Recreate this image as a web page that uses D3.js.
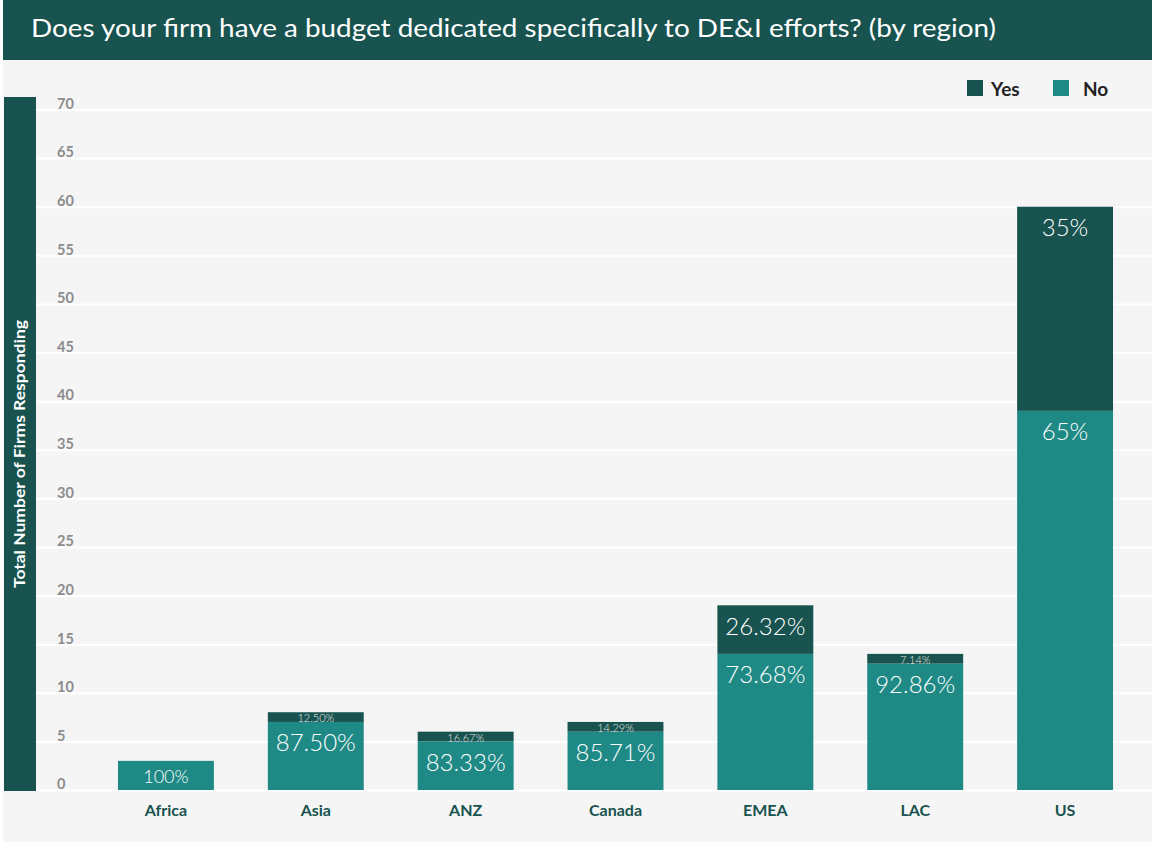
<!DOCTYPE html>
<html>
<head>
<meta charset="utf-8">
<script src="https://cdn.jsdelivr.net/npm/d3@7"></script>
<style>
  html, body { margin: 0; padding: 0; background: #ffffff; }
  svg { display: block; }
</style>
</head>
<body>
<script>
// Survey responses: number of firms answering Yes / No, by region
const regions = ["Africa", "Asia", "ANZ", "Canada", "EMEA", "LAC", "US"];
const yesCounts = [0, 1, 1, 1, 5, 1, 21];
const noCounts  = [3, 7, 5, 6, 14, 13, 39];
const yTicks = [0, 5, 10, 15, 20, 25, 30, 35, 40, 45, 50, 55, 60, 65, 70];
const seriesNames = ["Yes", "No"];

const W = 1152, H = 842;
const darkTeal = "#18534f";
const teal = "#1e8985";
const FONT = "Lato, 'Open Sans', sans-serif";

const svg = d3.select("body").append("svg").attr("width", W).attr("height", H);

// background panel and title banner
svg.append("rect").attr("x", 3).attr("y", 59).attr("width", W - 3).attr("height", H - 59).attr("fill", "#f5f5f5");
svg.append("rect").attr("x", 3).attr("y", 0).attr("width", W - 3).attr("height", 60).attr("fill", darkTeal);
svg.append("text")
  .attr("x", 31).attr("y", 37)
  .attr("fill", "#ffffff")
  .attr("font-family", FONT)
  .attr("font-size", 25)
  .attr("font-weight", 400)
  .attr("textLength", 965)
  .attr("lengthAdjust", "spacingAndGlyphs")
  .text("Does your firm have a budget dedicated specifically to DE&I efforts? (by region)");

const y = d3.scaleLinear().domain([0, 70]).range([790, 109.5]);
const x = d3.scaleBand().domain(regions).range([91, 1140]).paddingInner(0.36).paddingOuter(0.18);

// horizontal grid
const grid = svg.append("g").attr("transform", "translate(36,0)")
  .call(d3.axisRight(y).tickValues(yTicks).tickSize(W - 36).tickFormat(""));
grid.select(".domain").remove();
grid.selectAll("line").attr("stroke", "#ffffff").attr("stroke-width", 2);

// y tick labels
const yAxis = svg.append("g").attr("transform", "translate(57,0)")
  .call(d3.axisRight(y).tickValues(yTicks).tickSize(0).tickPadding(0));
yAxis.select(".domain").remove();
yAxis.selectAll("text")
  .attr("text-anchor", "start")
  .attr("dy", "-0.08em")
  .attr("fill", "#8c8c8c")
  .attr("font-family", FONT)
  .attr("font-weight", 700)
  .attr("font-size", 14.5);

// y axis title band
svg.append("rect").attr("x", 4).attr("y", 97).attr("width", 32).attr("height", 694).attr("fill", darkTeal);
svg.append("text")
  .attr("transform", "translate(25,454) rotate(-90)")
  .attr("text-anchor", "middle")
  .attr("fill", "#ffffff")
  .attr("font-family", FONT)
  .attr("font-weight", 700)
  .attr("font-size", 16)
  .attr("textLength", 268)
  .attr("lengthAdjust", "spacingAndGlyphs")
  .text("Total Number of Firms Responding");

// stacked bars (No at the bottom, Yes on top)
const rows = regions.map((r, i) => ({ region: r, No: noCounts[i], Yes: yesCounts[i] }));
const stack = d3.stack().keys(["No", "Yes"])(rows);
const colors = { Yes: darkTeal, No: teal };

const fmtPct = v => {
  const p = v * 100;
  return (Math.abs(p - Math.round(p)) < 1e-9 ? d3.format(".0f")(p) : d3.format(".2f")(p)) + "%";
};

stack.forEach(layer => {
  const key = layer.key;
  const g = svg.append("g");
  g.selectAll("rect").data(layer.filter(d => d[1] > d[0])).join("rect")
    .attr("x", d => x(d.data.region))
    .attr("width", x.bandwidth())
    .attr("y", d => y(d[1]))
    .attr("height", d => y(d[0]) - y(d[1]))
    .attr("fill", colors[key]);

  g.selectAll("text").data(layer.filter(d => d[1] > d[0])).join("text")
    .each(function(d) {
      const total = d.data.Yes + d.data.No;
      const share = (d[1] - d[0]) / total;
      const segH = y(d[0]) - y(d[1]);
      const t = d3.select(this);
      t.attr("x", x(d.data.region) + x.bandwidth() / 2)
        .attr("text-anchor", "middle")
        .attr("dominant-baseline", "central")
        .attr("font-family", FONT)
        .attr("font-weight", 300)
        .text(fmtPct(share));
      if (segH < 14) {
        t.attr("y", y(d[1]) + segH / 2 + 0.5).attr("font-size", 11).attr("fill", "#e6e6e6");
      } else if (segH < 40) {
        t.attr("y", y(d[1]) + 15).attr("font-size", 18).attr("fill", "#ffffff");
      } else {
        t.attr("y", y(d[1]) + 20).attr("font-size", 24).attr("fill", "#ffffff");
      }
    });
});

// category axis
const xAxis = svg.append("g").attr("transform", "translate(0,790)")
  .call(d3.axisBottom(x).tickSize(0).tickPadding(0));
xAxis.select(".domain").remove();
xAxis.selectAll("text")
  .attr("dy", "26px")
  .attr("fill", darkTeal)
  .attr("font-family", FONT)
  .attr("font-weight", 700)
  .attr("font-size", 16);

// legend
const legend = svg.append("g");
const legendX = { Yes: 967, No: 1053 };
seriesNames.forEach(k => {
  legend.append("rect").attr("x", legendX[k]).attr("y", 80).attr("width", 16).attr("height", 16).attr("fill", colors[k]);
  legend.append("text")
    .attr("x", legendX[k] + (k === "Yes" ? 24 : 30)).attr("y", 88)
    .attr("dominant-baseline", "central")
    .attr("fill", "#222222")
    .attr("font-family", FONT)
    .attr("font-weight", 700)
    .attr("font-size", 19)
    .text(k);
});
</script>
</body>
</html>
